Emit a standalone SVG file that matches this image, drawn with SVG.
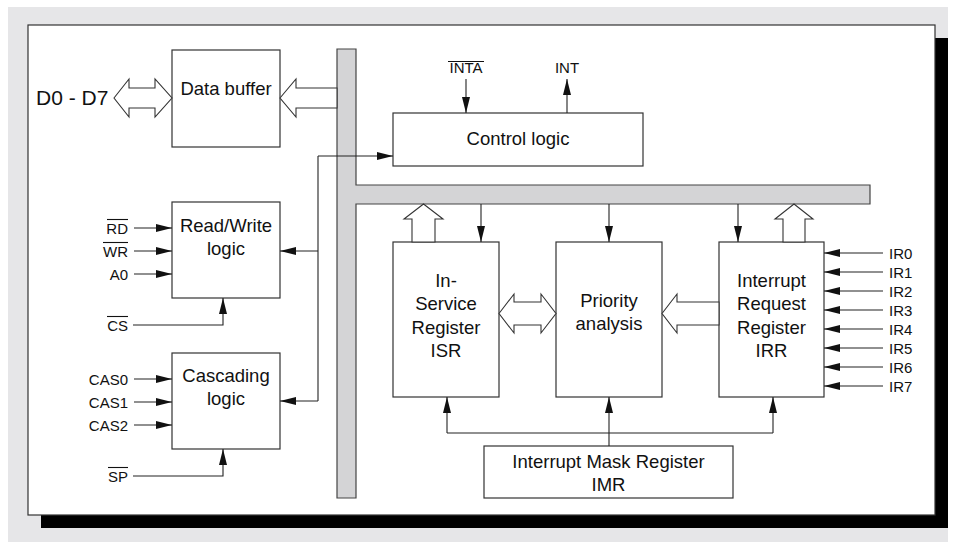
<svg xmlns="http://www.w3.org/2000/svg" width="957" height="542" viewBox="0 0 957 542">
<style>
.box{fill:#fff;stroke:#333;stroke-width:1.2}
.ln{fill:none;stroke:#222;stroke-width:1.1}
.arr{fill:none;stroke:#222;stroke-width:1.1;marker-end:url(#ah)}
.hol{fill:#fff;stroke:#333;stroke-width:1.1;stroke-linejoin:miter}
.t{font-family:"Liberation Sans",Arial,sans-serif;font-size:18.5px;fill:#111;text-anchor:middle}
.s{font-family:"Liberation Sans",Arial,sans-serif;font-size:15px;fill:#111}
.r{text-anchor:end}
.ob{stroke:#111;stroke-width:1.1}
</style>
<defs>
<marker id="ah" markerUnits="userSpaceOnUse" markerWidth="16" markerHeight="8" refX="16" refY="4" orient="auto">
<path d="M0,0 L16,4 L0,8 z" fill="#111"/>
</marker>
</defs>
<g id="frame">
<rect x="8" y="7" width="940" height="535" fill="#e6e6e8"/>
<rect x="41" y="38" width="907" height="490" fill="#000"/>
<rect x="28" y="25" width="907" height="490" fill="#fff" stroke="#333" stroke-width="1.2"/>
</g>
<g id="bus">
<path d="M337,49 H356 V185 H870 V204 H356 V498 H337 Z" fill="#d4d4d6" stroke="#444" stroke-width="1.2"/>
</g>
<g id="data-buffer">
<rect class="box" x="172" y="50" width="108" height="97"/>
<text class="t" x="226" y="95">Data buffer</text>
</g>
<g id="read-write-logic">
<rect class="box" x="172" y="202" width="108" height="96"/>
<text class="t" x="226" y="232">Read/Write</text>
<text class="t" x="226" y="255">logic</text>
</g>
<g id="cascading-logic">
<rect class="box" x="172" y="353" width="108" height="96"/>
<text class="t" x="226" y="382">Cascading</text>
<text class="t" x="226" y="405">logic</text>
</g>
<g id="control-logic">
<rect class="box" x="393" y="113" width="250" height="53"/>
<text class="t" x="518" y="145">Control logic</text>
</g>
<g id="isr">
<rect class="box" x="393" y="242" width="106" height="155"/>
<text class="t" x="446" y="287">In-</text>
<text class="t" x="446" y="310">Service</text>
<text class="t" x="446" y="334">Register</text>
<text class="t" x="446" y="357">ISR</text>
</g>
<g id="priority-analysis">
<rect class="box" x="556" y="242" width="106" height="155"/>
<text class="t" x="609" y="307">Priority</text>
<text class="t" x="609" y="330">analysis</text>
</g>
<g id="irr">
<rect class="box" x="719" y="242" width="105" height="155"/>
<text class="t" x="771.5" y="287">Interrupt</text>
<text class="t" x="771.5" y="310">Request</text>
<text class="t" x="771.5" y="334">Register</text>
<text class="t" x="771.5" y="357">IRR</text>
</g>
<g id="imr">
<rect class="box" x="484" y="446" width="249" height="52"/>
<text class="t" x="608.5" y="468">Interrupt Mask Register</text>
<text class="t" x="608.5" y="491">IMR</text>
</g>
<g id="labels">
<text x="36" y="105" font-family="Liberation Sans,Arial,sans-serif" font-size="21" fill="#111">D0 - D7</text>
<text class="s r" x="128" y="234">RD</text>
<line class="ob" x1="107" y1="219.5" x2="128" y2="219.5"/>
<text class="s r" x="128" y="257">WR</text>
<line class="ob" x1="103" y1="242.5" x2="128" y2="242.5"/>
<text class="s r" x="128" y="280">A0</text>
<text class="s r" x="128" y="331">CS</text>
<line class="ob" x1="107" y1="316.5" x2="128" y2="316.5"/>
<text class="s r" x="128" y="385">CAS0</text>
<text class="s r" x="128" y="408">CAS1</text>
<text class="s r" x="128" y="431">CAS2</text>
<text class="s r" x="128" y="482">SP</text>
<line class="ob" x1="108" y1="467.5" x2="128" y2="467.5"/>
<text class="s" x="466" y="73" text-anchor="middle">INTA</text>
<line class="ob" x1="448" y1="61.5" x2="484" y2="61.5"/>
<text class="s" x="567" y="73" text-anchor="middle">INT</text>
<text class="s" x="889" y="259">IR0</text>
<text class="s" x="889" y="278">IR1</text>
<text class="s" x="889" y="297">IR2</text>
<text class="s" x="889" y="316">IR3</text>
<text class="s" x="889" y="335">IR4</text>
<text class="s" x="889" y="354">IR5</text>
<text class="s" x="889" y="373">IR6</text>
<text class="s" x="889" y="392">IR7</text>
</g>
<g id="connectors">
<polygon class="hol" points="114,98 129,79 129,88 155,88 155,79 172,98 155,117 155,108 129,108 129,117"/>
<polygon class="hol" points="280,98 296,79 296,88 337,88 337,108 296,108 296,117"/>
<path class="arr" d="M134,228 H172"/>
<path class="arr" d="M134,251 H172"/>
<path class="arr" d="M134,274 H172"/>
<path class="arr" d="M133,325 H223 V298"/>
<path class="arr" d="M134,379 H172"/>
<path class="arr" d="M134,402 H172"/>
<path class="arr" d="M134,425 H172"/>
<path class="arr" d="M133,476 H223 V449"/>
<path class="ln" d="M318,156 V401"/>
<path class="arr" d="M318,156 H393"/>
<path class="arr" d="M318,251 H280"/>
<path class="arr" d="M318,401 H280"/>
<path class="arr" d="M466,79 V113"/>
<path class="arr" d="M567,113 V79"/>
<polygon class="hol" points="412,242 412,219 404,219 423.5,204 443,219 435,219 435,242"/>
<polygon class="hol" points="783,242 783,219 775,219 794,204 813,219 805,219 805,242"/>
<path class="arr" d="M481,204 V242"/>
<path class="arr" d="M609,204 V242"/>
<path class="arr" d="M738,204 V242"/>
<polygon class="hol" points="499,313.5 514,294 514,302 541,302 541,294 556,313.5 541,333 541,325 514,325 514,333"/>
<polygon class="hol" points="662,313.5 677,294 677,302 719,302 719,325 677,325 677,333"/>
<path class="arr" d="M883,253 H824"/>
<path class="arr" d="M883,272 H824"/>
<path class="arr" d="M883,291 H824"/>
<path class="arr" d="M883,310 H824"/>
<path class="arr" d="M883,329 H824"/>
<path class="arr" d="M883,348 H824"/>
<path class="arr" d="M883,367 H824"/>
<path class="arr" d="M883,386 H824"/>
<path class="arr" d="M609,446 V397"/>
<path class="ln" d="M447,433 H773"/>
<path class="arr" d="M447,433 V397"/>
<path class="arr" d="M773,433 V397"/>
</g>
</svg>
